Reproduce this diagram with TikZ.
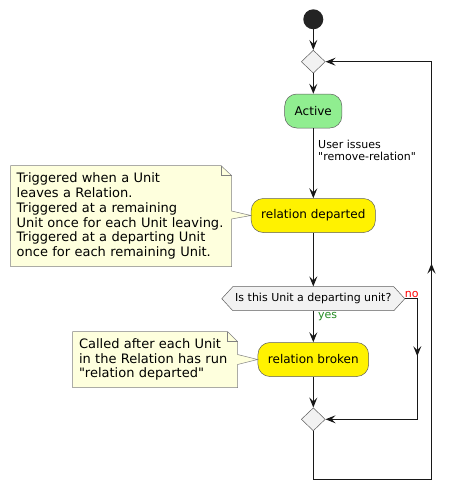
\documentclass[tikz,border=0pt]{standalone}
\usepackage{fontspec}
\setmainfont{DejaVu Sans}[Ligatures=TeXOff]
\usetikzlibrary{arrows.meta}
\usetikzlibrary{shapes.geometric,shapes.symbols}
\usetikzlibrary{decorations.markings}
\usetikzlibrary{positioning}
\definecolor{lineblack}{HTML}{181818}
\definecolor{boxgreen}{HTML}{90EE90}
\definecolor{notefill}{HTML}{FEFFDD}
\definecolor{yesgreen}{HTML}{228B22}
\tikzstyle{activity} = [draw=lineblack!70, line width=0.5pt, rectangle, rounded corners=12pt,
    minimum height=34pt, inner xsep=10pt, font=\fontsize{12}{14}\selectfont]
\tikzstyle{merge} = [draw=lineblack!70, fill=gray!10, line width=0.5pt, diamond,
    minimum width=24pt, minimum height=23pt, inner sep=0pt]
\tikzstyle{notebox} = [text width=#1, align=left, inner sep=0pt,
    font=\fontsize{13}{14.9}\selectfont]
\tikzstyle{noteline} = [draw=gray, fill=notefill, line width=0.5pt]
\tikzstyle{flow} = [draw=lineblack, line width=1pt, -{Stealth[length=10pt,width=8pt,inset=4pt]}]
\tikzstyle{midarrow} = [postaction={decorate}, decoration={markings,
    mark=at position #1 with {\arrow{Stealth[length=10pt,width=8pt,inset=4pt]}}}]
\tikzstyle{small} = [font=\fontsize{11}{12.3}\selectfont, inner sep=0pt]

\begin{document}
\begin{tikzpicture}[x=1pt, y=-1pt]
    \useasboundingbox (0,0) rectangle (456,490);
    % We start by placing the blocks
    \fill[lineblack!95] (313.3,19.3) circle (10pt) coordinate (start);
    \node [merge] (loop) at (313.3,61.7) {};
    \node [activity, fill=boxgreen] (active) at (313.3,111) {Active};
    \node [activity, fill=yellow] (departed) at (313.3,215.5) {relation departed};
    \node [draw=lineblack!70, fill=gray!10, line width=0.5pt, signal, signal to=west and east,
        signal pointer angle=95, minimum width=183pt, minimum height=24pt, inner sep=0pt,
        font=\fontsize{11}{12}\selectfont] (check) at (313.3,298.7) {Is this Unit a departing unit?};
    \node [activity, fill=yellow] (broken) at (313.3,359.5) {relation broken};
    \node [merge] (join) at (313.3,419.3) {};

    % the notes on the left
    \node [notebox=208pt, minimum height=100.6pt, minimum width=208pt] (note1) at (120.7,216) {};
    \node [notebox=152pt, minimum height=55.6pt, minimum width=152pt] (note2) at (155,359.5) {};
    \path[noteline] ([xshift=-6pt]note1.north west) -- ([xshift=-4pt]note1.north east)
        -- ([xshift=6.6pt,yshift=-10pt]note1.north east) -- ([xshift=6.6pt,yshift=5pt]note1.east)
        -- (departed.west) -- ([xshift=6.6pt,yshift=-3pt]note1.east)
        -- ([xshift=6.6pt]note1.south east) -- ([xshift=-6pt]note1.south west) -- cycle;
    \draw[noteline, fill=none] ([xshift=-3.4pt]note1.north east) |- ([xshift=6.6pt,yshift=-10pt]note1.north east);
    \path[noteline] ([xshift=-6.3pt]note2.north west) -- ([xshift=-3.7pt]note2.north east)
        -- ([xshift=6.3pt,yshift=-10pt]note2.north east) -- ([xshift=6.3pt,yshift=5pt]note2.east)
        -- (broken.west) -- ([xshift=6.3pt,yshift=-5pt]note2.east)
        -- ([xshift=6.3pt]note2.south east) -- ([xshift=-6.3pt]note2.south west) -- cycle;
    \draw[noteline, fill=none] ([xshift=-3.7pt]note2.north east) |- ([xshift=6.3pt,yshift=-10pt]note2.north east);
    \node [notebox=208pt] (text1) at (note1) {Triggered when a Unit\\leaves a Relation.\\Triggered at a remaining\\Unit once for each Unit leaving.\\Triggered at a departing Unit\\once for each remaining Unit.};
    \node [notebox=152pt] (text2) at (note2) {Called after each Unit\\in the Relation has run\\"relation departed"};

    % Once the nodes are placed, connecting them is easy.
    \draw [flow] (start) ++(0,10) -- (loop.north);
    \draw [flow] (loop.south) -- (active.north);
    \draw [flow] (active.south) -- (departed.north);
    \node [small, anchor=north west, align=left] (issue) at (318,140) {User issues\\"remove-relation"};
    \draw [flow] (departed.south) -- (check.north);
    \draw [flow] (check.south) -- (broken.north);
    \node [small, anchor=west, text=yesgreen] (yes) at (318,317) {yes};
    \draw [flow] (broken.south) -- (join.north);
    \coordinate (noturn) at (417.3,298.7);
    \node [small, anchor=south, text=red] (no) at (411.8,298) {no};
    \draw [flow, midarrow=0.31] (check.east) -- (noturn) |- (join.east);
    \coordinate (back) at (431.5,479.3);
    \draw [flow, midarrow=0.554] (join.south) |- (back) |- (loop.east);
\end{tikzpicture}
\end{document}
